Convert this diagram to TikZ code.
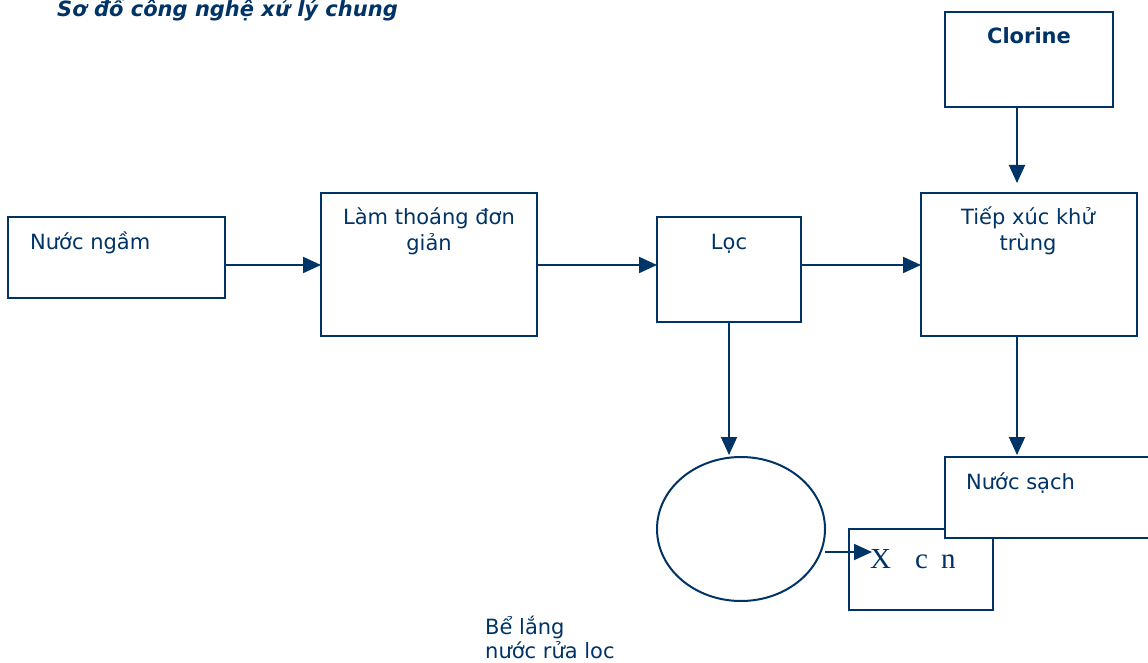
\documentclass[tikz,border=0pt]{standalone}
\usepackage{fontspec}
\setmainfont{DejaVu Sans}
\newfontfamily\serifx{Liberation Serif}
\usetikzlibrary{arrows.meta,shapes.geometric}
\definecolor{navy}{RGB}{0,51,102}
\begin{document}
\begin{tikzpicture}[x=1pt,y=-1pt,
  box/.style={draw=navy,line width=2pt,fill=white,anchor=north west,inner sep=0pt,outer sep=0pt},
  txt/.style={text=navy,inner sep=0pt,font=\fontsize{21}{26}\selectfont},
  arr/.style={draw=navy,line width=2pt,-{Triangle[length=18pt,width=16pt]}}]
\useasboundingbox (0,0) rectangle (1148,663);
% title
\node[txt,anchor=base west,font=\fontsize{21}{26}\selectfont\bfseries\itshape] (title) at (57,17) {Sơ đồ công nghệ xử lý chung};
% boxes
\node[box,minimum width=217pt,minimum height=81pt] (nn) at (8,217) {};
\node[box,minimum width=216pt,minimum height=143pt] (lt) at (321,193) {};
\node[box,minimum width=144pt,minimum height=105pt] (loc) at (657,217) {};
\node[box,minimum width=216pt,minimum height=143pt] (tx) at (921,193) {};
\node[box,minimum width=168pt,minimum height=95pt] (cl) at (945,12) {};
\node[box,minimum width=144pt,minimum height=81pt] (xcn) at (849,529) {};
\node[box,minimum width=204pt,minimum height=81pt] (ns) at (945,457) {};
\node[draw=navy,line width=2pt,ellipse,minimum width=168pt,minimum height=144pt,inner sep=0pt,outer sep=0pt] (bl) at (741,529) {};
% texts
\node[txt,anchor=base west] (tnn) at (30,249) {Nước ngầm};
\node[txt,anchor=base] (tlt1) at (429,224) {Làm thoáng đơn};
\node[txt,anchor=base] (tlt2) at (429,250) {giản};
\node[txt,anchor=base] (tloc) at (729,249) {Lọc};
\node[txt,anchor=base] (ttx1) at (1028,224) {Tiếp xúc khử};
\node[txt,anchor=base] (ttx2) at (1028,250) {trùng};
\node[txt,anchor=base,font=\fontsize{21}{26}\selectfont\bfseries] (tcl) at (1029,44) {Clorine};
\node[txt,anchor=base west] (tns) at (966,489) {Nước sạch};
\node[txt,anchor=base west,font=\fontsize{29}{32}\serifx] (txcn) at (870,568) {X\hspace{24pt}c\hspace{13pt}n};
\node[txt,anchor=base west] (tbl1) at (485,634) {Bể lắng};
\node[txt,anchor=base west] (tbl2) at (485,658) {nước rửa loc};
% connectors
\coordinate (r1) at (0,265);
\coordinate (r5) at (0,552);
\coordinate (c1) at (1017,0);
\coordinate (xtip) at (872,552);
\draw[arr] (nn.east|-r1) -- (lt.west|-r1);
\draw[arr] (lt.east|-r1) -- (loc.west|-r1);
\draw[arr] (loc.east|-r1) -- (tx.west|-r1);
\draw[arr,shorten >=10pt] (c1|-cl.south) -- (c1|-tx.north);
\draw[arr,shorten >=2pt] (c1|-tx.south) -- (c1|-ns.north);
\draw[arr,shorten >=2pt] (loc.south) -- (loc.south|-bl.north);
\draw[arr] (bl.east|-r5) -- (xtip);
\end{tikzpicture}
\end{document}
